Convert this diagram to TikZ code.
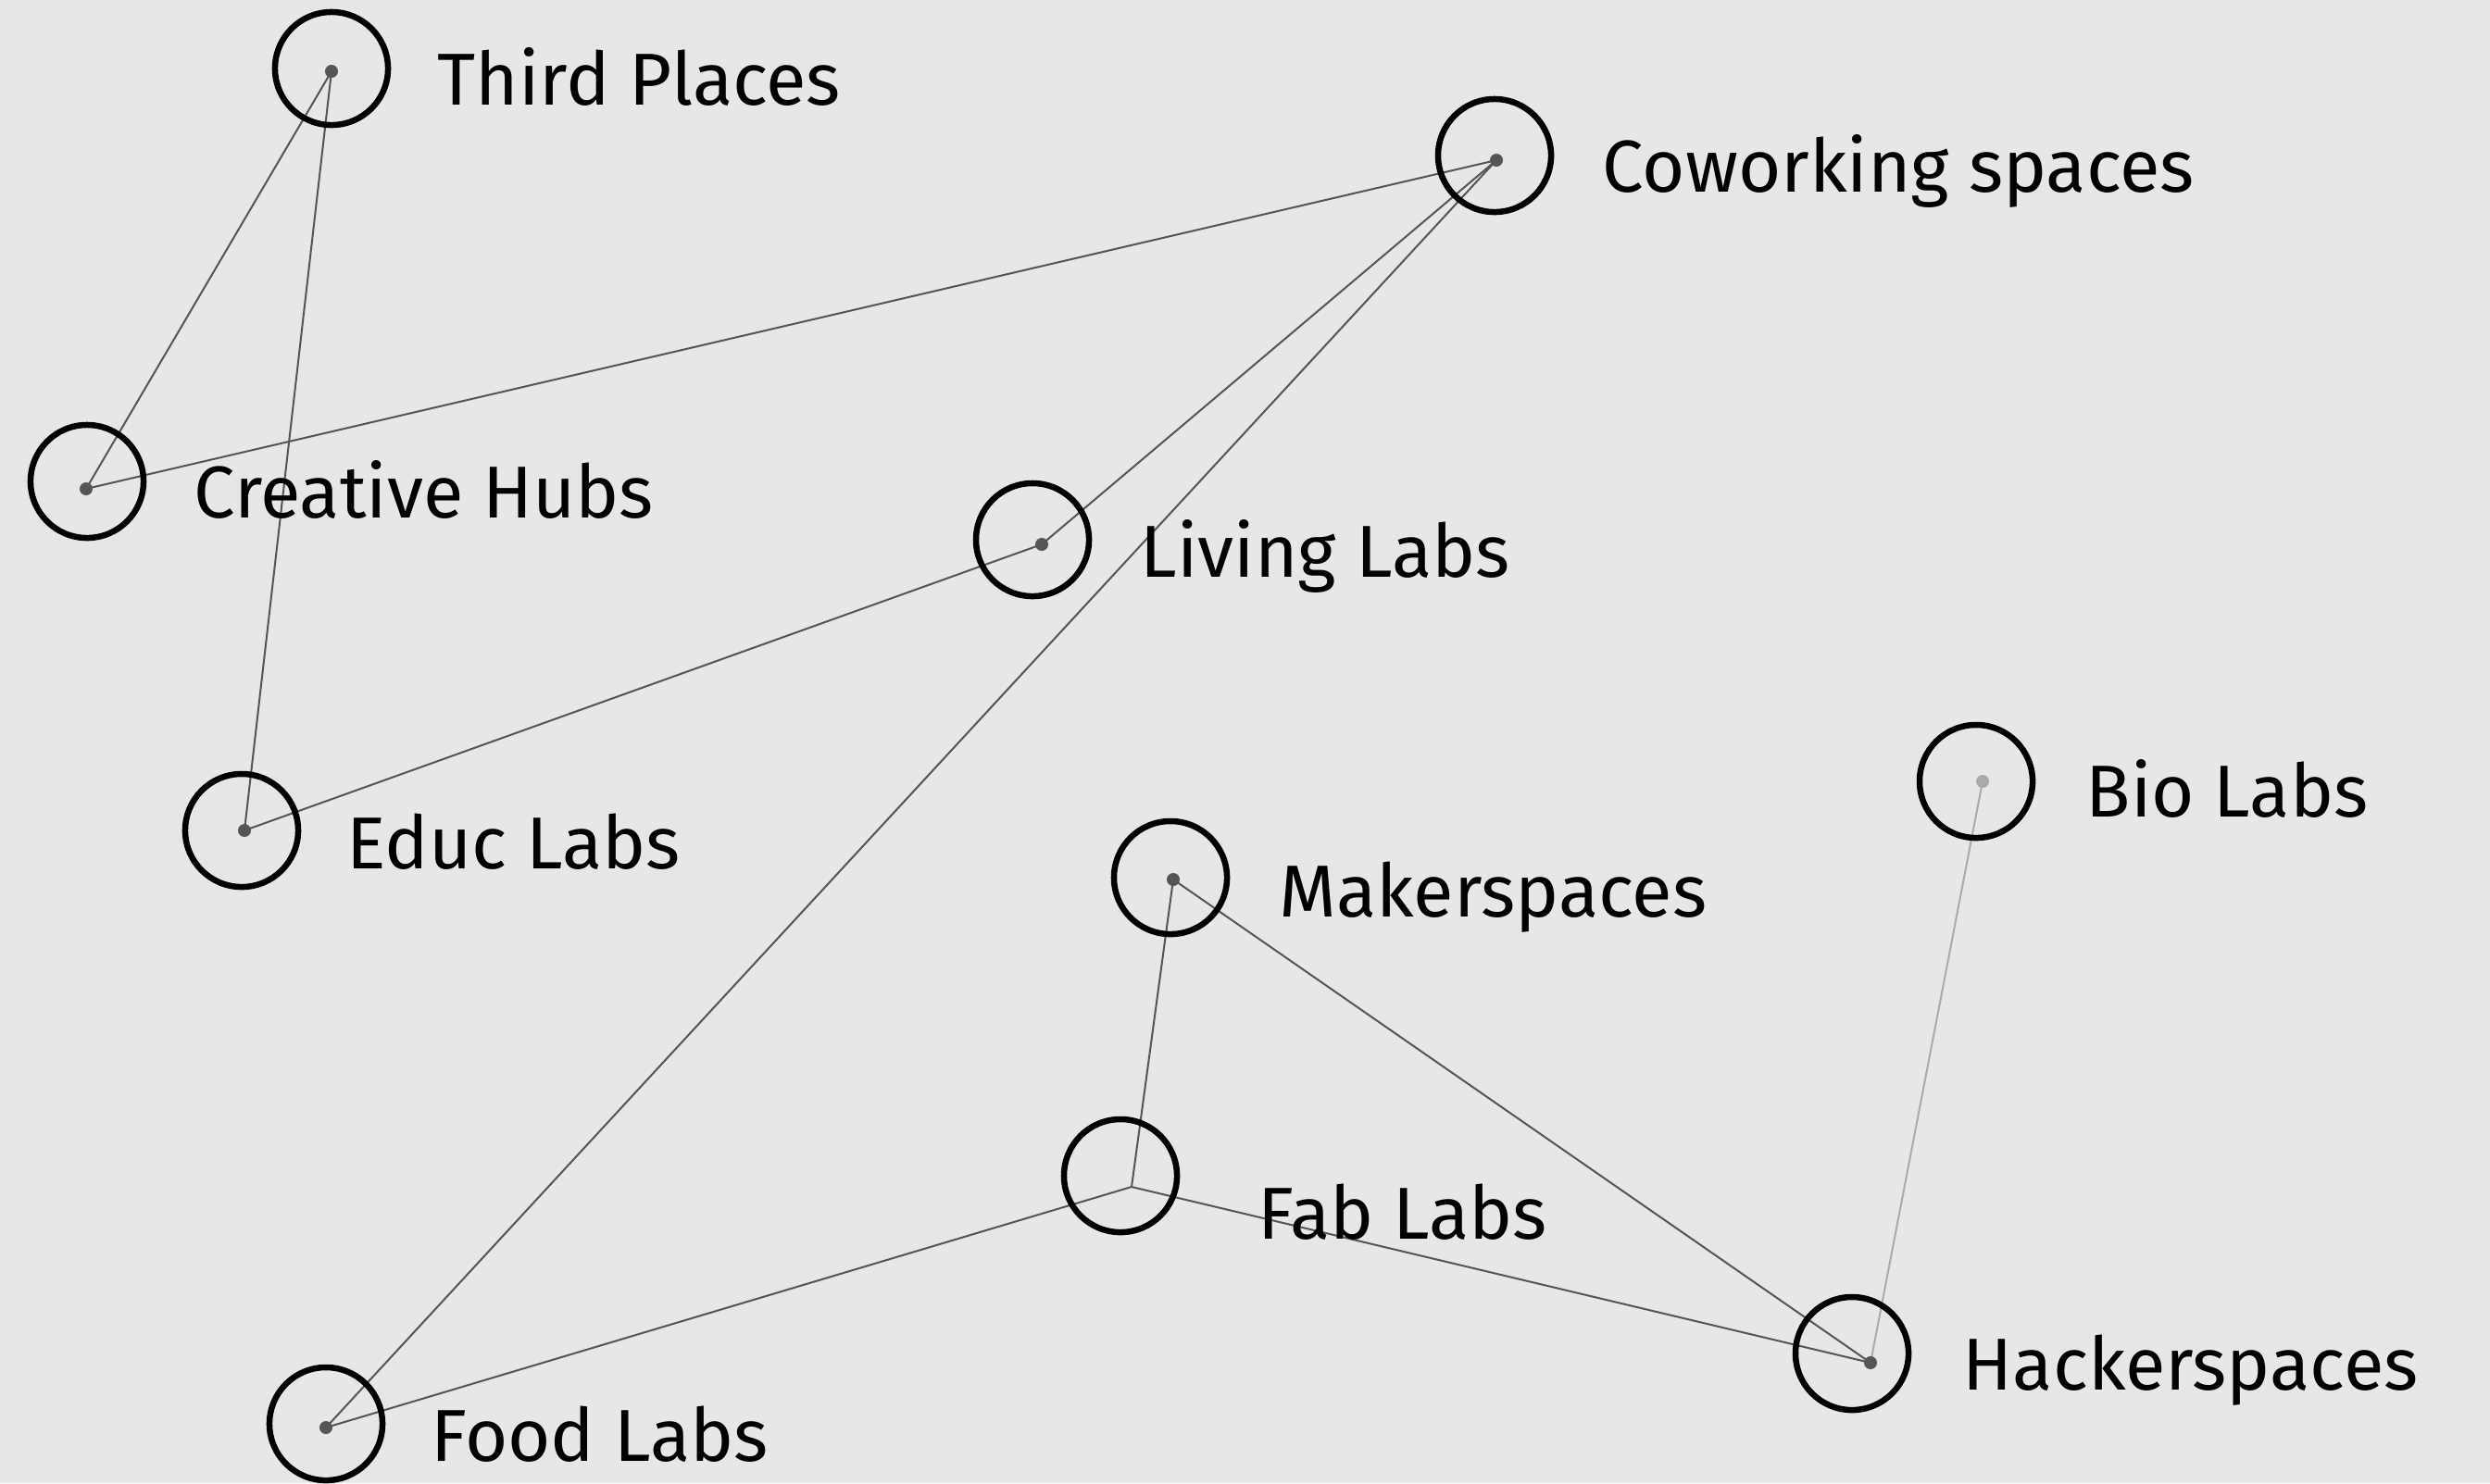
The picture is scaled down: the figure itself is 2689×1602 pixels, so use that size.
\documentclass[tikz,border=0pt]{standalone}
\usepackage{fontspec}
\setmainfont{Fira Sans}
\definecolor{bg}{HTML}{E6E7E9}
\definecolor{edgegray}{HTML}{555555}
\definecolor{lightgray2}{HTML}{AAAAAA}
\pgfdeclarelayer{bglayer}
\pgfdeclarelayer{edgelayer}
\pgfsetlayers{bglayer,edgelayer,main}
\begin{document}
\begin{tikzpicture}[x=0.01cm,y=-0.01cm,
  ring/.style={circle,draw=black,line width=0.065cm,minimum size=1.22cm,inner sep=0pt},
  hub/.style={circle,fill=edgegray,minimum size=0.14cm,inner sep=0pt},
  lbl/.style={anchor=base west,font=\fontsize{22.6}{27}\selectfont,inner sep=0pt,text=black,xshift=-0.05cm},
  link/.style={draw=edgegray,line width=0.02cm},
  lightlink/.style={draw=lightgray2,line width=0.02cm}]
\begin{pgfonlayer}{bglayer}
\fill[bg] (0,0) rectangle (2689,1602);
\end{pgfonlayer}
\useasboundingbox (0,0) rectangle (2689,1602);
% rings
\node[ring] (tpr) at (358,74) {};
\node[ring] (cwr) at (1614,168) {};
\node[ring] (chr) at (94,520) {};
\node[ring] (llr) at (1115,583) {};
\node[ring] (elr) at (261,897) {};
\node[ring] (blr) at (2134,844) {};
\node[ring] (msr) at (1264,948) {};
\node[ring] (flr) at (1210,1270) {};
\node[ring] (hsr) at (2000,1462) {};
\node[ring] (for) at (352,1538) {};
% hubs
\node[hub] (tp) at (358,77) {};
\node[hub] (cw) at (1616,173) {};
\node[hub] (ch) at (93,528) {};
\node[hub] (ll) at (1125,588) {};
\node[hub] (el) at (264,897) {};
\node[hub,fill=lightgray2] (bl) at (2141,844) {};
\node[hub] (ms) at (1267,950) {};
\coordinate (fl) at (1222,1282);
\node[hub] (hs) at (2020,1472) {};
\node[hub] (fo) at (352,1542) {};
% labels
\node[lbl] (tpl) at (477,113) {Third Places};
\node[lbl] (cwl) at (1735,207) {Coworking spaces};
\node[lbl] (chl) at (214,559) {Creative Hubs};
\node[lbl] (lll) at (1236,623) {Living Labs};
\node[lbl] (ell) at (379,938) {Educ Labs};
\node[lbl] (bll) at (2257,882) {Bio Labs};
\node[lbl] (msl) at (1386,990) {Makerspaces};
\node[lbl] (fll) at (1363,1338) {Fab Labs};
\node[lbl] (hsl) at (2124,1501) {Hackerspaces};
\node[lbl] (fol) at (470,1578) {Food Labs};
% edges
\begin{pgfonlayer}{edgelayer}
\draw[link] (tp.center) -- (ch.center);
\draw[link] (tp.center) -- (el.center);
\draw[link] (cw.center) -- (ch.center);
\draw[link] (cw.center) -- (ll.center);
\draw[link] (cw.center) -- (fo.center);
\draw[link] (ll.center) -- (el.center);
\draw[link] (ms.center) -- (fl);
\draw[link] (ms.center) -- (hs.center);
\draw[link] (fl) -- (fo.center);
\draw[link] (fl) -- (hs.center);
\draw[lightlink] (bl.center) -- (hs.center);
\end{pgfonlayer}
\end{tikzpicture}
\end{document}
